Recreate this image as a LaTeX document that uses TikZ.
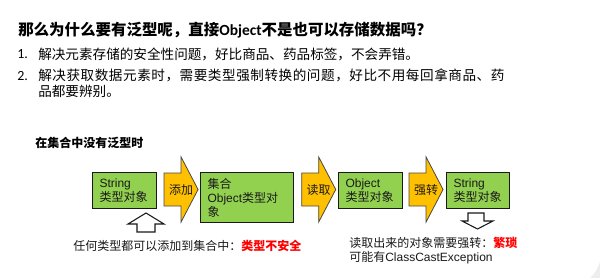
\documentclass[tikz,border=0pt]{standalone}
\usepackage{fontspec}
\setmainfont{Liberation Sans}
\newfontfamily\cjk{Noto Sans CJK SC}
\newfontfamily\calib{Carlito}
\newcommand\zh[1]{{\cjk #1}}
\usetikzlibrary{calc}

\definecolor{boxgreen}{HTML}{92D050}
\definecolor{arrowgold}{HTML}{FFC000}
\definecolor{alertred}{HTML}{FF0000}
\definecolor{ink}{HTML}{1A1A1A}

\tikzset{
  gbox/.style={draw=ink, fill=boxgreen, line width=0.8pt, anchor=north west,
    align=left, inner xsep=5.25pt, inner ysep=0pt, text=ink,
    font=\fontsize{9}{10.5}\selectfont},
  yarrow/.style={draw=ink!80, fill=arrowgold, line width=0.6pt, line join=miter},
  hollow/.style={draw=ink, fill=white, line width=0.8pt, line join=miter},
  arrowlbl/.style={inner sep=0pt, text=ink, font=\fontsize{9}{10.5}\selectfont},
  note/.style={inner sep=0pt, anchor=west, align=left, text=ink,
    font=\fontsize{9}{10.5}\selectfont},
}

% block arrow starting #2 px right of node #1, on the row of the arrows
\newcommand\blockarrow[4]{%
  \coordinate (#3-s) at ($(#1.east |- axis)+(#2,0)$);
  \draw[yarrow] ($(#3-s)+(0,-16.5)$) -- ++(17,0) -- ++(0,-16) -- ++(17,32.5)
     -- ++(-17,32.5) -- ++(0,-16) -- ++(-17,0) -- cycle;
  \node[arrowlbl] (#3) at ($(#3-s)+(17,0.5)$) {\zh{#4}};
}

\begin{document}
\begin{tikzpicture}[x=0.75pt,y=-0.75pt]
  \useasboundingbox (0,0) rectangle (600,278);
  \fill[white] (0,0) rectangle (600,278);

  % heading and the two points
  \node[inner sep=0pt, anchor=west, font=\fontsize{11.6}{13}\selectfont\bfseries]
    (title) at (18,30)
    {\zh{那么为什么要有泛型呢，直接}{\calib Object}\zh{不是也可以存储数据吗？}};
  \node[inner sep=0pt, anchor=west, font=\calib\fontsize{10.5}{12}\selectfont]
    (n1) at (17,54) {1.};
  \node[inner sep=0pt, anchor=west, font=\fontsize{10.2}{12}\selectfont]
    (p1) at (38,54) {\zh{解决元素存储的安全性问题，好比商品、药品标签，不会弄错。}};
  \node[inner sep=0pt, anchor=west, font=\calib\fontsize{10.5}{12}\selectfont]
    (n2) at (17,76) {2.};
  \node[inner sep=0pt, anchor=north west, align=left, font=\fontsize{10.2}{11.5}\selectfont]
    (p2) at (38,69)
    {{\cjk\addfontfeature{LetterSpace=4}解决获取数据元素时，需要类型强制转换的问题，好比不用每回拿商品、药}\\
     \zh{品都要辨别。}};

  % diagram caption
  \node[inner sep=0pt, anchor=west, font=\fontsize{9}{10.5}\selectfont\bfseries]
    (cap) at (35,143) {\zh{在集合中没有泛型时}};

  \coordinate (axis) at (0,189.5);

  % the four objects
  \node[gbox, text width=37.5pt, minimum height=27pt] (s1) at (92,172)
    {String\\\zh{类型对象}};
  \node[gbox, text width=59pt, minimum height=37.5pt] (c1) at (200,172)
    {\zh{集合}\\Object\zh{类型对}\\\zh{象}};
  \node[gbox, text width=37.5pt, minimum height=27pt] (o1) at (338,172)
    {Object\\\zh{类型对象}};
  \node[gbox, text width=36.75pt, minimum height=27pt] (s2) at (446,172)
    {String\\\zh{类型对象}};

  % steps between them
  \blockarrow{s1}{7}{add}{添加}
  \blockarrow{c1}{8}{read}{读取}
  \blockarrow{o1}{6}{cast}{强转}

  % hollow pointers and remarks
  \coordinate (up) at (146,213);
  \draw[hollow] (up) -- ++(18,11) -- ++(-9,0) -- ++(0,8) -- ++(-18,0) -- ++(0,-8)
     -- ++(-9,0) -- cycle;
  \coordinate (down) at (477.5,229);
  \draw[hollow] (down) -- ++(15.5,-8) -- ++(-9,0) -- ++(0,-8) -- ++(-16,0) -- ++(0,8)
     -- ++(-6,0) -- cycle;

  \node[note] (unsafe) at (73,246)
    {\zh{任何类型都可以添加到集合中：}\textcolor{alertred}{\bfseries\zh{类型不安全}}};
  \node[note] (tedious) at (349,251)
    {\zh{读取出来的对象需要强转：}\textcolor{alertred}{\bfseries\zh{繁琐}}\\
     \zh{可能有}ClassCastException};

  % faint page-curl shade in the corner
  \fill[black!7] (600,262) .. controls (597,270) and (594,275) .. (590,278)
     -- (600,278) -- cycle;
\end{tikzpicture}
\end{document}
